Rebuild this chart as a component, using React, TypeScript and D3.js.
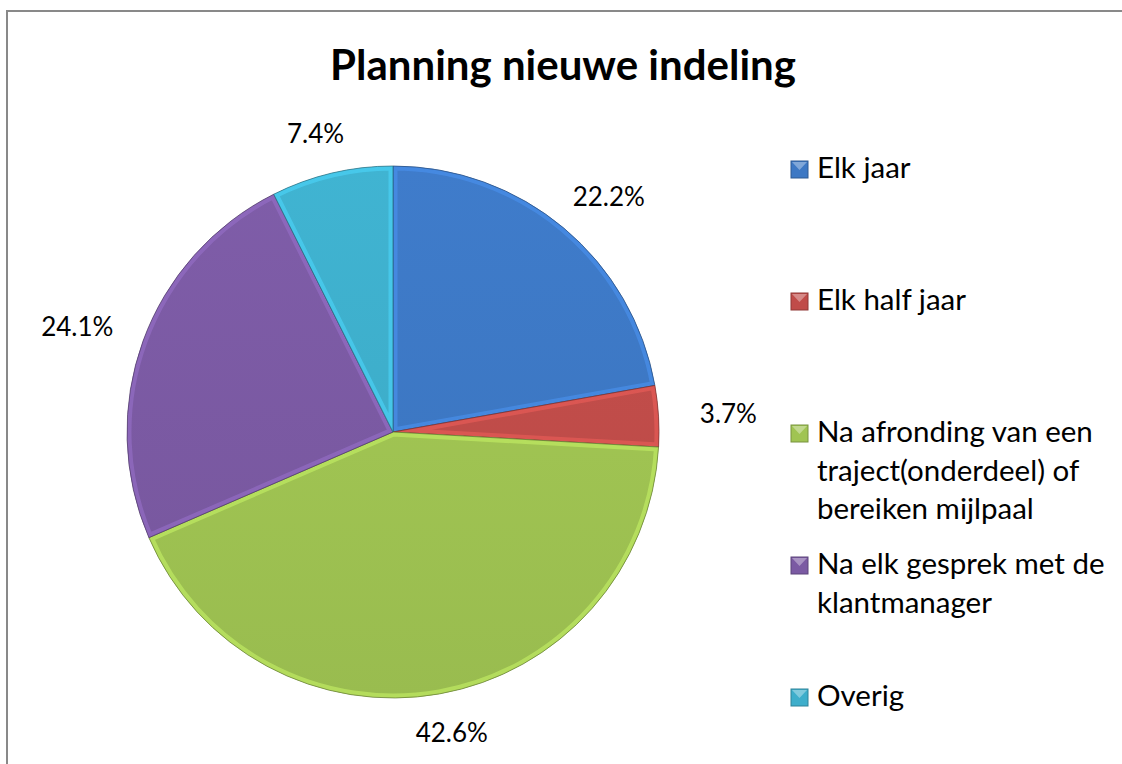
import React, { useEffect, useRef } from "react";
import * as d3 from "d3";

const categories = [
  "Elk jaar",
  "Elk half jaar",
  "Na afronding van een traject(onderdeel) of bereiken mijlpaal",
  "Na elk gesprek met de klantmanager",
  "Overig",
];
const values = [22.2, 3.7, 42.6, 24.1, 7.4];
const colors = ["#3d78c4", "#c04c49", "#a0c452", "#7b5aa3", "#3eaecb"];
const title = "Planning nieuwe indeling";

const FONT = "Lato, 'Open Sans', sans-serif";

const App: React.FC = () => {
  const svgRef = useRef<SVGSVGElement | null>(null);

  useEffect(() => {
    if (!svgRef.current) return;
    const width = 1122;
    const height = 764;
    const svg = d3.select(svgRef.current).attr("width", width).attr("height", height);
    svg.selectAll("*").remove();

    // cadre gris
    svg
      .append("rect")
      .attr("x", 7)
      .attr("y", 11)
      .attr("width", width + 20)
      .attr("height", height + 20)
      .attr("fill", "#fff")
      .attr("stroke", "#898989")
      .attr("stroke-width", 2);

    svg
      .append("text")
      .attr("x", 563)
      .attr("y", 80)
      .attr("text-anchor", "middle")
      .style("font-family", FONT)
      .style("font-weight", "bold")
      .style("font-size", "42px")
      .text(title);

    const cx = 393;
    const cy = 432;
    const radius = 266;

    const pie = d3.pie<number>().sort(null).value((d) => d);
    const arcs = pie(values);
    const arc = d3.arc<d3.PieArcDatum<number>>().innerRadius(0).outerRadius(radius);

    const defs = svg.append("defs");
    colors.forEach((c, i) => {
      const g = defs
        .append("linearGradient")
        .attr("id", `grad${i}`)
        .attr("gradientUnits", "userSpaceOnUse")
        .attr("x1", 0)
        .attr("y1", -radius)
        .attr("x2", 0)
        .attr("y2", radius);
      g.append("stop").attr("offset", "0%").attr("stop-color", d3.color(c)!.brighter(0.1).formatHex());
      g.append("stop").attr("offset", "100%").attr("stop-color", d3.color(c)!.darker(0.12).formatHex());
      defs
        .append("clipPath")
        .attr("id", `clip${i}`)
        .append("path")
        .attr("d", arc(arcs[i])!);
    });

    const chart = svg.append("g").attr("transform", `translate(${cx},${cy})`);

    const slices = chart.selectAll("g.slice").data(arcs).enter().append("g").attr("class", "slice");

    slices
      .append("path")
      .attr("d", (d) => arc(d)!)
      .attr("fill", (d, i) => `url(#grad${i})`);

    // effet biseau : liseré clair à l'intérieur de la part
    slices
      .append("path")
      .attr("d", (d) => arc(d)!)
      .attr("fill", "none")
      .attr("clip-path", (d, i) => `url(#clip${i})`)
      .attr("stroke", (d, i) => d3.color(colors[i])!.brighter(0.5).formatHex())
      .attr("stroke-opacity", 0.7)
      .attr("stroke-width", 9);

    slices
      .append("path")
      .attr("d", (d) => arc(d)!)
      .attr("fill", "none")
      .attr("stroke", (d, i) => d3.color(colors[i])!.darker(1.4).formatHex())
      .attr("stroke-opacity", 0.7)
      .attr("stroke-width", 1);

    // étiquettes de pourcentage
    const labelW = 40;
    const labelH = 10;
    chart
      .selectAll("text.pct")
      .data(arcs)
      .enter()
      .append("text")
      .attr("class", "pct")
      .attr("x", (d) => {
        const a = (d.startAngle + d.endAngle) / 2;
        return Math.sin(a) * (radius + 30) + Math.sin(a) * labelW;
      })
      .attr("y", (d) => {
        const a = (d.startAngle + d.endAngle) / 2;
        return -Math.cos(a) * (radius + 30) - Math.cos(a) * labelH + 9;
      })
      .attr("text-anchor", "middle")
      .style("font-family", FONT)
      .style("font-size", "26px")
      .style("fill", "#000")
      .text((d) => `${d.data.toFixed(1)}%`);

    // légende
    const legendY = d3.scaleLinear().domain([0, categories.length - 1]).range([178, 706]);
    const legend = svg
      .selectAll("g.legend")
      .data(categories)
      .enter()
      .append("g")
      .attr("class", "legend")
      .attr("transform", (d, i) => `translate(791, ${legendY(i)})`);

    legend
      .append("rect")
      .attr("x", 0)
      .attr("y", -17)
      .attr("width", 17)
      .attr("height", 17)
      .attr("fill", (d, i) => colors[i])
      .attr("stroke", (d, i) => d3.color(colors[i])!.darker(0.8).formatHex())
      .attr("stroke-width", 1);

    legend
      .append("path")
      .attr("d", "M1,-16 L16,-16 L8.5,-8 Z")
      .attr("fill", "#fff")
      .attr("fill-opacity", 0.35);

    legend.each(function (label) {
      const g = d3.select(this);
      const text = g
        .append("text")
        .attr("x", 26)
        .attr("y", 0)
        .style("font-family", FONT)
        .style("font-size", "29.5px");
      const words = label.split(" ");
      let line: string[] = [];
      let tspan = text.append("tspan").attr("x", 26).attr("dy", 0);
      words.forEach((w) => {
        line.push(w);
        tspan.text(line.join(" "));
        if ((tspan.node() as SVGTSpanElement).getComputedTextLength() > 300 && line.length > 1) {
          line.pop();
          tspan.text(line.join(" "));
          line = [w];
          tspan = text.append("tspan").attr("x", 26).attr("dy", 38.5).text(w);
        }
      });
    });
  }, []);

  return (
    <svg
      ref={svgRef}
      style={{ position: "absolute", left: 0, top: 0, display: "block" }}
    ></svg>
  );
};

export default App;
